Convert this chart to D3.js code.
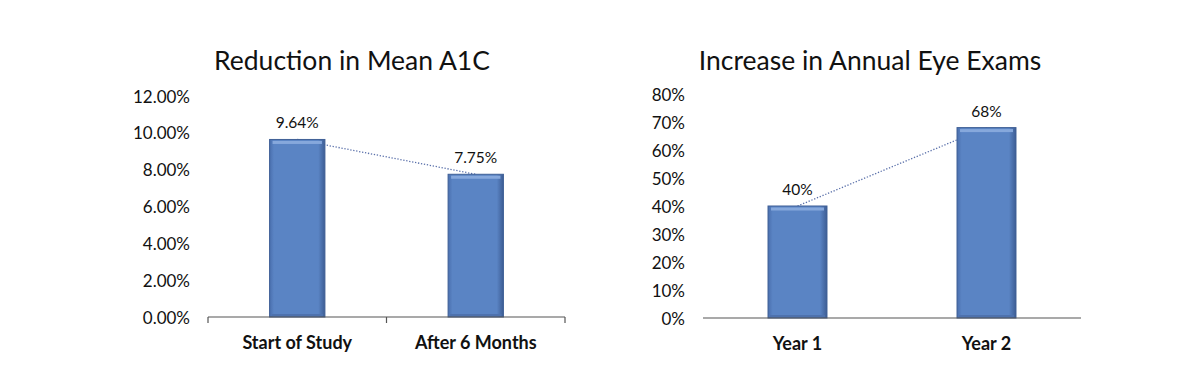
<!DOCTYPE html>
<html>
<head>
<meta charset="utf-8">
<script src="https://cdn.jsdelivr.net/npm/d3@7"></script>
<style>
  body { margin: 0; background: #fff; }
  svg { display: block; }
  text { font-family: Lato, "Open Sans", sans-serif; fill: #111; }
</style>
</head>
<body>
<div id="chart"></div>
<script>
const a1cCategories = ["Start of Study", "After 6 Months"];
const a1cValues = [9.64, 7.75];
const a1cTicks = [0, 2, 4, 6, 8, 10, 12];

const eyeCategories = ["Year 1", "Year 2"];
const eyeValues = [40, 68];
const eyeTicks = [0, 10, 20, 30, 40, 50, 60, 70, 80];

const WIDTH = 1200;
const HEIGHT = 370;

const svg = d3.select("#chart")
    .append("svg")
        .attr("width", WIDTH)
        .attr("height", HEIGHT)

// bevel-ish gradients for the bars
const defs = svg.append("defs")
const grad = defs.append("linearGradient")
    .attr("id", "barFill")
    .attr("x1", 0).attr("x2", 1).attr("y1", 0).attr("y2", 0)
grad.append("stop").attr("offset", "0%").attr("stop-color", "#4a6fae")
grad.append("stop").attr("offset", "8%").attr("stop-color", "#5a84c4")
grad.append("stop").attr("offset", "88%").attr("stop-color", "#5a84c4")
grad.append("stop").attr("offset", "100%").attr("stop-color", "#3d5d94")

function drawChart(opts) {
    const g = svg.append("g")

    const x = d3.scaleBand()
        .domain(opts.categories)
        .range([opts.left, opts.right])
        .paddingInner(opts.pad)
        .paddingOuter(opts.pad / 2)

    const y = d3.scaleLinear()
        .domain([0, opts.max])
        .range([opts.base, opts.top])

    // title
    g.append("text")
        .attr("x", opts.titleX)
        .attr("y", 70)
        .attr("text-anchor", "middle")
        .style("font-size", "26.5px")
        .text(opts.title)

    // y tick labels
    const yAxis = d3.axisLeft(y)
        .tickValues(opts.ticks)
        .tickSize(0)
        .tickPadding(0)
        .tickFormat(opts.fmt)
    g.append("g")
        .attr("transform", `translate(${opts.labelX},0)`)
        .call(yAxis)
        .call(s => s.select(".domain").remove())
        .selectAll("text")
            .style("font-family", "Lato, 'Open Sans', sans-serif")
            .style("font-size", "17px")
            .attr("fill", "#111")
            .attr("dy", "0.36em")

    // connecting dotted line (behind bars)
    const line = d3.line()
        .x((d, i) => x(opts.categories[i]) + x.bandwidth() / 2)
        .y(d => y(d))
    g.append("path")
        .datum(opts.values)
        .attr("d", line)
        .attr("fill", "none")
        .attr("stroke", "#5a70aa")
        .attr("stroke-width", 1.3)
        .attr("stroke-dasharray", "1.3,1.7")

    // bars
    const bars = g.selectAll(".bar")
        .data(opts.values)
        .enter()
        .append("g")
    bars.append("rect")
        .attr("x", (d, i) => x(opts.categories[i]))
        .attr("y", d => y(d))
        .attr("width", x.bandwidth())
        .attr("height", d => opts.base - y(d))
        .attr("fill", "url(#barFill)")
        .attr("stroke", "#3f5f96")
        .attr("stroke-width", 1)
    bars.append("rect")
        .attr("x", (d, i) => x(opts.categories[i]) + 3)
        .attr("y", d => y(d) + 1.5)
        .attr("width", x.bandwidth() - 6)
        .attr("height", 3)
        .attr("fill", "#86a8dc")
    bars.append("rect")
        .attr("x", (d, i) => x(opts.categories[i]) + 2)
        .attr("y", opts.base - 3)
        .attr("width", x.bandwidth() - 4)
        .attr("height", 2)
        .attr("fill", "#4e72ae")

    // value labels
    g.selectAll(".val")
        .data(opts.values)
        .enter()
        .append("text")
            .attr("x", (d, i) => x(opts.categories[i]) + x.bandwidth() / 2)
            .attr("y", d => y(d) - 11)
            .attr("text-anchor", "middle")
            .style("font-size", "15.5px")
            .text(opts.valFmt)

    // x axis category labels
    const xAxis = d3.axisBottom(x)
        .tickSize(0)
        .tickPadding(0)
    const xa = g.append("g")
        .attr("transform", `translate(0,${opts.base})`)
        .call(xAxis)
    xa.select(".domain").remove()
    xa.selectAll(".tick line").remove()
    xa.selectAll("text")
        .attr("y", 26)
        .attr("dy", "0.35em")
        .style("font-family", "Lato, 'Open Sans', sans-serif")
        .style("font-size", "18px")
        .style("font-weight", "bold")
        .attr("fill", "#111")

    g.append("line")
        .attr("x1", opts.left).attr("x2", opts.right)
        .attr("y1", opts.base).attr("y2", opts.base)
        .attr("stroke", "#555")
        .attr("stroke-width", 1.2)

    if (opts.xTicks) {
        const edges = [opts.left].concat(opts.categories.map(c => x(c) + x.bandwidth() / 2 + x.step() / 2))
        g.selectAll(".edge")
            .data(edges)
            .enter()
            .append("line")
                .attr("x1", d => d).attr("x2", d => d)
                .attr("y1", opts.base).attr("y2", opts.base + 6)
                .attr("stroke", "#555")
                .attr("stroke-width", 1.2)
    }
}

drawChart({
    title: "Reduction in Mean A1C",
    titleX: 352,
    categories: a1cCategories,
    values: a1cValues,
    ticks: a1cTicks,
    max: 12,
    left: 208,
    right: 565,
    base: 317,
    top: 96,
    pad: 0.69,
    labelX: 190,
    fmt: d => d.toFixed(2) + "%",
    valFmt: d => d.toFixed(2) + "%",
    xTicks: true
})

drawChart({
    title: "Increase in Annual Eye Exams",
    titleX: 870,
    categories: eyeCategories,
    values: eyeValues,
    ticks: eyeTicks,
    max: 80,
    left: 703,
    right: 1081,
    base: 318,
    top: 94,
    pad: 0.688,
    labelX: 685,
    fmt: d => d + "%",
    valFmt: d => d + "%",
    xTicks: false
})
</script>
</body>
</html>
